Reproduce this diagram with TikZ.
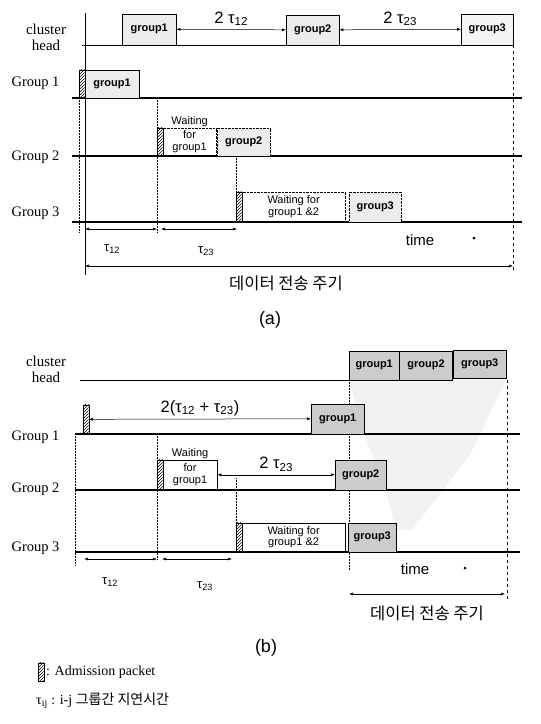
\documentclass[tikz,border=0pt]{standalone}
\usepackage{fontspec}
\setmainfont{Liberation Serif}
\newfontfamily\arialfont{Liberation Sans}
\newfontfamily\krfont{Noto Sans CJK KR}
\usetikzlibrary{arrows.meta,positioning,calc,patterns}

\begin{document}
\begin{tikzpicture}[x=1pt, y=-1pt,
  chlbl/.style={font=\fontsize{15}{16}\selectfont, align=center},
  rowlbl/.style={font=\fontsize{14.5}{14.5}\selectfont, anchor=east},
  datbox/.style={draw, fill=gray!15, font=\arialfont\bfseries\fontsize{11}{12}\selectfont, inner sep=0pt, anchor=south west},
  datboxb/.style={datbox, fill=gray!40},
  waitbox/.style={draw, font=\arialfont\fontsize{11}{11.5}\selectfont, align=center, inner sep=0pt, anchor=south west},
  waitlbl/.style={font=\arialfont\fontsize{11}{11.5}\selectfont, inner sep=1pt},
  admpkt/.style={draw, pattern=north east lines, inner sep=0pt, minimum width=5.5pt, anchor=south west},
  tline/.style={line width=1.1pt},
  guide/.style={densely dotted, line width=0.5pt},
  dimarr/.style={{Latex[length=4pt,width=3pt]}-{Latex[length=4pt,width=3pt]}, line width=0.5pt},
  taulbl/.style={font=\arialfont\fontsize{13}{13}\selectfont},
  gaplbl/.style={font=\arialfont\fontsize{16.5}{16.5}\selectfont, above=0pt},
  timelbl/.style={font=\arialfont\fontsize{15}{15}\selectfont},
  krlbl/.style={font=\krfont\fontsize{16.5}{16.5}\selectfont},
  caplbl/.style={font=\arialfont\fontsize{18}{18}\selectfont},
  leglbl/.style={font=\fontsize{14}{14}\selectfont, inner sep=2pt},
]
\useasboundingbox (0,0) rectangle (541,724);

% ---------------- (a) ----------------
\node[chlbl] (ach) at (46,37) {cluster\\head};
\node[rowlbl] (ar1) at (63,83) {Group 1};
\node[rowlbl] (ar2) at (63,157) {Group 2};
\node[rowlbl] (ar3) at (63,213) {Group 3};

\draw[line width=0.6pt] (82,45) -- (513,45);
\draw[tline] (72,98) -- (522,98);
\draw[tline] (72,156) -- (522,156);
\draw[tline] (72,222) -- (522,222);
\draw[line width=0.6pt] (85,13) -- (85,275);
\draw[dashed] (513,15) -- (513,272);
\draw[guide] (79,98) -- (79,232);
\draw[guide] (157,98) -- (157,232);
\draw[guide] (236,156) -- (236,222);

% cluster head receptions
\node[datbox, minimum width=54pt, minimum height=31pt] (ag1) at (122,45) {group1};
\node[datbox, minimum width=53pt, minimum height=30pt] (ag2) at (286,45) {group2};
\node[datbox, minimum width=52pt, minimum height=31pt, fill=gray!8] (ag3) at (461,45) {group3};
\draw[dimarr] (ag1.east) -- node[gaplbl] {2 τ\textsubscript{12}} (ag2.west);
\draw[dimarr] (ag2.east) -- node[gaplbl] {2 τ\textsubscript{23}} (ag3.west);

% group rows
\node[admpkt, minimum height=28pt] (a1p) at (79,98) {};
\node[datbox, minimum width=54pt, minimum height=28pt] (a1d) at (a1p.south east) {group1};

\node[admpkt, minimum height=28pt] (a2p) at (157,156) {};
\node[waitbox, densely dotted, minimum width=53pt, minimum height=28pt] (a2w) at (a2p.south east) {for\\group1};
\node[waitlbl, above=0pt of a2w] (a2wt) {Waiting};
\node[datbox, densely dotted, minimum width=53pt, minimum height=28pt] (a2d) at (217,156) {group2};

\node[admpkt, minimum height=30pt] (a3p) at (236,222) {};
\node[waitbox, densely dotted, minimum width=103pt, minimum height=30pt] (a3w) at (a3p.south east) {Waiting for\\group1 \&2};
\node[datbox, densely dotted, minimum width=52pt, minimum height=30pt] (a3d) at (349,222) {group3};

% delays and period
\coordinate (at0) at (85,229);
\coordinate (at1) at (157,229);
\coordinate (at2) at (161,229);
\coordinate (at3) at (237,229);
\draw[dimarr] (at0) -- (at1);
\draw[dimarr] (at2) -- (at3);
\node[taulbl] (atl1) at (112,249) {τ\textsubscript{12}};
\node[taulbl] (atl2) at (206,251) {τ\textsubscript{23}};
\node[timelbl] (atime) at (420,240) {time};
\fill (474,238) circle (1.5pt);
\coordinate (ap0) at (85,266);
\coordinate (ap1) at (513,266);
\draw[dimarr] (ap0) -- (ap1);
\node[krlbl] (aper) at (286,283) {데이터 전송 주기};
\node[caplbl] (acap) at (270,320) {(a)};

% ---------------- (b) ----------------
\fill[gray!10] (349,380) -- (506,380) -- (470,455) -- (412,530) -- (396,530) -- (386,490) -- (364,434) -- cycle;

\node[chlbl] (bch) at (46,369) {cluster\\head};
\node[rowlbl] (br1) at (63,437) {Group 1};
\node[rowlbl] (br2) at (63,489) {Group 2};
\node[rowlbl] (br3) at (63,548) {Group 3};

\draw[line width=0.6pt] (80,380) -- (349,380);
\draw[tline] (75,434) -- (520,434);
\draw[tline] (75,490) -- (520,490);
\draw[tline] (75,552) -- (520,552);
\draw[guide] (349,380) -- (349,570);
\draw[dashed] (507,380) -- (507,600);
\draw[guide] (75,434) -- (75,565);
\draw[guide] (157,434) -- (157,560);
\draw[guide] (236,478) -- (236,552);

% cluster head receptions
\node[datboxb, minimum width=50pt, minimum height=29pt] (bg1) at (349,380) {group1};
\node[datboxb, minimum width=53pt, minimum height=29pt] (bg2) at (bg1.south east) {group2};
\node[datboxb, minimum width=53pt, minimum height=28pt] (bg3) at (453,378) {group3};

% group rows
\node[admpkt, minimum height=29pt] (b1p) at (83,434) {};
\node[datboxb, minimum width=53pt, minimum height=30pt] (b1d) at (311,434) {group1};
\draw[dimarr] (b1p.east) -- node[gaplbl] {2(τ\textsubscript{12} + τ\textsubscript{23})} (b1d.west);

\node[admpkt, minimum height=30pt] (b2p) at (157,490) {};
\node[waitbox, minimum width=54pt, minimum height=30pt] (b2w) at (b2p.south east) {for\\group1};
\node[waitlbl, above=0pt of b2w] (b2wt) {Waiting};
\node[datboxb, minimum width=51pt, minimum height=30pt] (b2d) at (335,490) {group2};
\draw[dimarr] (b2w.east) -- node[gaplbl] {2 τ\textsubscript{23}} (b2d.west);

\node[admpkt, minimum height=29pt] (b3p) at (236,552) {};
\node[waitbox, minimum width=103pt, minimum height=29pt] (b3w) at (b3p.south east) {Waiting for\\group1 \&2};
\node[datboxb, minimum width=48pt, minimum height=29pt] (b3d) at (348,552) {group3};

% delays and period
\coordinate (bt0) at (84,559);
\coordinate (bt1) at (157,559);
\coordinate (bt2) at (162,559);
\coordinate (bt3) at (232,559);
\draw[dimarr] (bt0) -- (bt1);
\draw[dimarr] (bt2) -- (bt3);
\node[taulbl] (btl1) at (110,582) {τ\textsubscript{12}};
\node[taulbl] (btl2) at (205,586) {τ\textsubscript{23}};
\node[timelbl] (btime) at (415,569) {time};
\fill (465,568) circle (1.5pt);
\coordinate (bp0) at (349,594);
\coordinate (bp1) at (505,594);
\draw[dimarr] (bp0) -- (bp1);
\node[krlbl] (bper) at (427,613) {데이터 전송 주기};
\node[caplbl] (bcap) at (266,648) {(b)};

% legend
\node[admpkt, minimum height=18pt] (lgp) at (38,681) {};
\node[leglbl, anchor=west] (lgt) at (lgp.east) {: Admission packet};
\node[leglbl, anchor=west] (lgtau) at (34,701) {τ\textsubscript{ij} : i-j {\krfont 그룹간 지연시간}};
\end{tikzpicture}
\end{document}
